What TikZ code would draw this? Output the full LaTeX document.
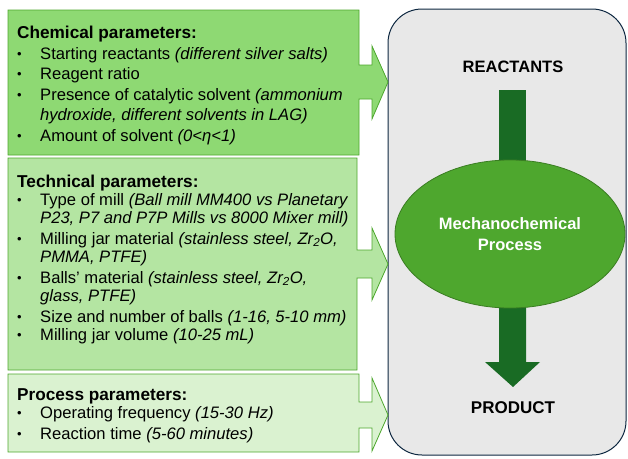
\documentclass[tikz,border=0pt]{standalone}
\usepackage{fontspec}
\setmainfont{Liberation Sans}
\usetikzlibrary{shapes.geometric}

\definecolor{chemfill}{HTML}{8ED973}
\definecolor{techfill}{HTML}{B4E5A2}
\definecolor{procfill}{HTML}{DAF2D0}
\definecolor{boxline}{HTML}{4EA72E}
\definecolor{millgreen}{HTML}{4EA72E}
\definecolor{milledge}{HTML}{3A7D22}
\definecolor{flowgreen}{HTML}{196B24}
\definecolor{panelgray}{HTML}{E8E8E8}
\definecolor{panelline}{HTML}{0E2841}

\tikzset{
  parambox/.style={draw=boxline, line width=0.8pt},
  paramhead/.style={anchor=base west, inner sep=0pt, font=\fontsize{17.2}{21}\selectfont\bfseries},
  paramitem/.style={anchor=base west, inner sep=0pt, font=\fontsize{16.6}{20}\selectfont},
  parambullet/.style={anchor=base west, inner sep=0pt, font=\fontsize{13}{20}\selectfont},
  flowlabel/.style={inner sep=0pt, font=\fontsize{16.5}{20}\selectfont\bfseries},
}

\begin{document}
\begin{tikzpicture}[x=1pt,y=-1pt]
  \useasboundingbox (0,0) rectangle (628,458);

  % process panel
  \draw[draw=panelline, fill=panelgray, line width=1pt, rounded corners=34pt] (388,9) rectangle (626,455);

  % flow through the mill
  \fill[flowgreen] (499,90) rectangle (526,180);
  \fill[flowgreen] (499,290) -- (526,290) -- (526,362) -- (540,362) -- (513,387) -- (485,362) -- (499,362) -- cycle;
  \node[ellipse, fill=millgreen, draw=milledge, line width=0.8pt, minimum width=230pt, minimum height=148pt,
        text=white, align=center, font=\fontsize{16.5}{21}\selectfont\bfseries] (mill) at (510,234) {Mechanochemical\\Process};

  \node[flowlabel] (reactants) at (513,67) {REACTANTS};
  \node[flowlabel, font=\fontsize{17}{20}\selectfont\bfseries] (product) at (513,408) {PRODUCT};

  % parameter boxes
  \draw[parambox, fill=chemfill] (8,10) -- (359,10) -- (359,65) -- (372,65) -- (372,46) -- (388,82) -- (372,119)
    -- (372,99) -- (359,99) -- (359,155) -- (8,155) -- cycle;
  \draw[parambox, fill=techfill] (8,158) -- (357,158) -- (357,250) -- (372,250) -- (372,228) -- (388,264) -- (372,300)
    -- (372,278) -- (357,278) -- (357,370) -- (8,370) -- cycle;
  \draw[parambox, fill=procfill] (8,374) -- (359,374) -- (359,402) -- (372,402) -- (372,378) -- (388,415) -- (372,451)
    -- (372,428) -- (359,428) -- (359,452) -- (8,452) -- cycle;

  % chemical
  \node[paramhead] (chemhead) at (17,38) {Chemical parameters:};
  \node[parambullet] (chemb1) at (17,58) {•};
  \node[paramitem] (chem1) at (40,59) {Starting reactants \textit{(different silver salts)}};
  \node[parambullet] (chemb2) at (17,78.5) {•};
  \node[paramitem] (chem2) at (40,79.5) {Reagent ratio};
  \node[parambullet] (chemb3) at (17,99) {•};
  \node[paramitem] (chem3) at (40,100) {Presence of catalytic solvent \textit{(ammonium}};
  \node[paramitem] (chem3b) at (40,120.5) {\textit{hydroxide, different solvents in LAG)}};
  \node[parambullet] (chemb4) at (17,140) {•};
  \node[paramitem] (chem4) at (40,141) {Amount of solvent \textit{(0<η<1)}};

  % technical
  \node[paramhead] (techhead) at (17,187) {Technical parameters:};
  \node[parambullet] (techb1) at (17,204) {•};
  \node[paramitem] (tech1) at (40,205) {Type of mill \textit{(Ball mill MM400 vs Planetary}};
  \node[paramitem] (tech1b) at (40,223.5) {\textit{P23, P7 and P7P Mills vs 8000 Mixer mill)}};
  \node[parambullet] (techb2) at (17,243) {•};
  \node[paramitem] (tech2) at (40,244) {Milling jar material \textit{(stainless steel, Zr\textsubscript{2}O,}};
  \node[paramitem] (tech2b) at (40,262) {\textit{PMMA, PTFE)}};
  \node[parambullet] (techb3) at (17,282) {•};
  \node[paramitem] (tech3) at (40,283) {Balls’ material \textit{(stainless steel, Zr\textsubscript{2}O,}};
  \node[paramitem] (tech3b) at (40,301) {\textit{glass, PTFE)}};
  \node[parambullet] (techb4) at (17,321) {•};
  \node[paramitem] (tech4) at (40,322) {Size and number of balls \textit{(1-16, 5-10 mm)}};
  \node[parambullet] (techb5) at (17,339) {•};
  \node[paramitem] (tech5) at (40,340) {Milling jar volume \textit{(10-25 mL)}};

  % process
  \node[paramhead] (prochead) at (17,400) {Process parameters:};
  \node[parambullet] (procb1) at (17,417) {•};
  \node[paramitem] (proc1) at (40,418) {Operating frequency \textit{(15-30 Hz)}};
  \node[parambullet] (procb2) at (17,438) {•};
  \node[paramitem] (proc2) at (40,439) {Reaction time \textit{(5-60 minutes)}};
\end{tikzpicture}
\end{document}
